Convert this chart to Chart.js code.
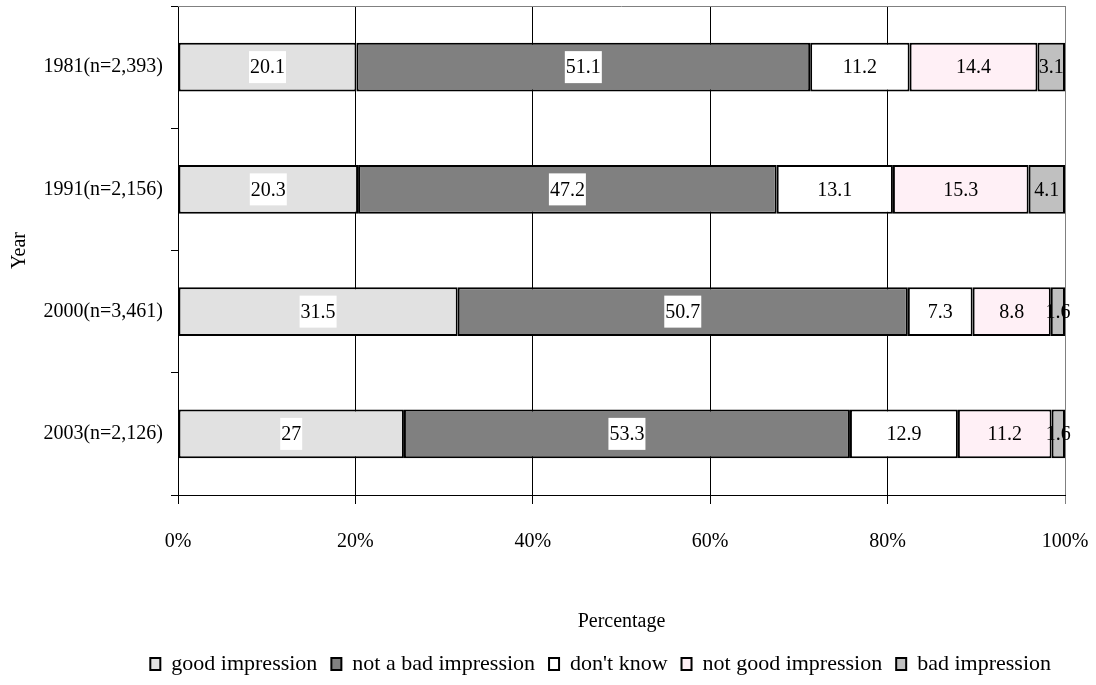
<!DOCTYPE html>
<html lang="en">
<head>
    <meta charset="UTF-8">
    <title>Impression by year</title>
    <script src="https://cdn.jsdelivr.net/npm/chart.js"></script>
    <style>
        body {
            margin: 0;
            background: #ffffff;
        }
        .chart-container {
            width: 1096px;
            height: 685px;
        }
    </style>
</head>
<body>
    <div class="chart-container">
        <canvas id="mainChart"></canvas>
    </div>

    <script>
    var years = ['1981(n=2,393)', '1991(n=2,156)', '2000(n=3,461)', '2003(n=2,126)'];
    var seriesNames = ['good impression', 'not a bad impression', "don't know", 'not good impression', 'bad impression'];
    var goodImpression = [20.1, 20.3, 31.5, 27];
    var notBadImpression = [51.1, 47.2, 50.7, 53.3];
    var dontKnow = [11.2, 13.1, 7.3, 12.9];
    var notGoodImpression = [14.4, 15.3, 8.8, 11.2];
    var badImpression = [3.1, 4.1, 1.6, 1.6];
    var xTicks = [0, 20, 40, 60, 80, 100];

    var colors = ['#e1e1e1', '#808080', '#ffffff', '#fff0f6', '#c0c0c0'];
    var fontFamily = "'Liberation Serif', 'Times New Roman', serif";

    var raw = [goodImpression, notBadImpression, dontKnow, notGoodImpression, badImpression];

    // 100% stacked: each row is scaled to its own total
    var totals = years.map(function(_, i) {
        return raw.reduce(function(s, arr) { return s + arr[i]; }, 0);
    });

    var datasets = raw.map(function(arr, k) {
        return {
            label: seriesNames[k],
            data: arr.map(function(v, i) { return v / totals[i] * 100; }),
            rawValues: arr,
            backgroundColor: colors[k],
            borderColor: '#000000',
            borderWidth: 2,
            borderSkipped: false,
            barPercentage: 0.4,
            categoryPercentage: 1.0
        };
    });

    // draws the value text in the middle of every segment
    var segmentLabels = {
        id: 'segmentLabels',
        afterDatasetsDraw: function(chart) {
            var ctx = chart.ctx;
            ctx.save();
            ctx.font = '20px ' + fontFamily;
            ctx.textAlign = 'center';
            ctx.textBaseline = 'middle';
            chart.data.datasets.forEach(function(ds, k) {
                var meta = chart.getDatasetMeta(k);
                meta.data.forEach(function(bar, i) {
                    var text = String(ds.rawValues[i]);
                    var cx = (bar.x + bar.base) / 2;
                    var cy = bar.y;
                    if (k < 2) {
                        var w = ctx.measureText(text).width;
                        ctx.fillStyle = '#ffffff';
                        ctx.fillRect(cx - w / 2 - 1, cy - 16, w + 2, 32);
                    }
                    ctx.fillStyle = '#000000';
                    ctx.fillText(text, cx, cy + 1);
                });
            });
            ctx.restore();
        }
    };

    // gray line on top of plot area
    var plotFrame = {
        id: 'plotFrame',
        beforeDatasetsDraw: function(chart) {
            var a = chart.chartArea;
            var ctx = chart.ctx;
            ctx.save();
            ctx.strokeStyle = '#808080';
            ctx.lineWidth = 1;
            ctx.beginPath();
            ctx.moveTo(a.left, a.top + 0.5);
            ctx.lineTo(a.right, a.top + 0.5);
            ctx.stroke();
            ctx.restore();
        }
    };

    var ctx = document.getElementById('mainChart').getContext('2d');
    var chart = new Chart(ctx, {
        type: 'bar',
        data: {
            labels: years,
            datasets: datasets
        },
        plugins: [plotFrame, segmentLabels],
        options: {
            indexAxis: 'y',
            responsive: true,
            maintainAspectRatio: false,
            animation: false,
            layout: {
                padding: { top: 6, right: 31, left: 0, bottom: 0 }
            },
            plugins: {
                legend: {
                    display: true,
                    position: 'bottom',
                    align: 'end',
                    labels: {
                        color: '#000000',
                        font: { family: fontFamily, size: 22 },
                        boxWidth: 10,
                        boxHeight: 12,
                        padding: 14
                    }
                },
                tooltip: { enabled: false }
            },
            scales: {
                x: {
                    stacked: true,
                    min: 0,
                    max: 100,
                    afterBuildTicks: function(scale) {
                        scale.ticks = xTicks.map(function(v) { return { value: v }; });
                    },
                    afterFit: function(scale) {
                        scale.paddingLeft = 0;
                        scale.paddingRight = 0;
                    },
                    grid: {
                        color: function(c) {
                            return c.tick && c.tick.value === 100 ? '#808080' : '#000000';
                        },
                        lineWidth: 1,
                        tickLength: 9
                    },
                    border: { color: '#000000' },
                    ticks: {
                        color: '#000000',
                        font: { family: fontFamily, size: 20 },
                        padding: 26,
                        maxRotation: 0,
                        callback: function(v) { return v + '%'; }
                    },
                    title: {
                        display: true,
                        text: 'Percentage',
                        color: '#000000',
                        font: { family: fontFamily, size: 20 },
                        padding: { top: 30, bottom: 5 }
                    }
                },
                y: {
                    stacked: true,
                    afterFit: function(scale) {
                        scale.width = 178;
                        scale.paddingTop = 0;
                        scale.paddingBottom = 0;
                    },
                    grid: {
                        drawOnChartArea: false,
                        color: '#000000',
                        tickLength: 7
                    },
                    border: { color: '#000000' },
                    ticks: {
                        color: '#000000',
                        font: { family: fontFamily, size: 20 },
                        padding: 8
                    },
                    title: {
                        display: true,
                        text: 'Year',
                        color: '#000000',
                        font: { family: fontFamily, size: 20 },
                        padding: { top: 8, bottom: 0 }
                    }
                }
            }
        }
    });
    </script>
</body>
</html>
